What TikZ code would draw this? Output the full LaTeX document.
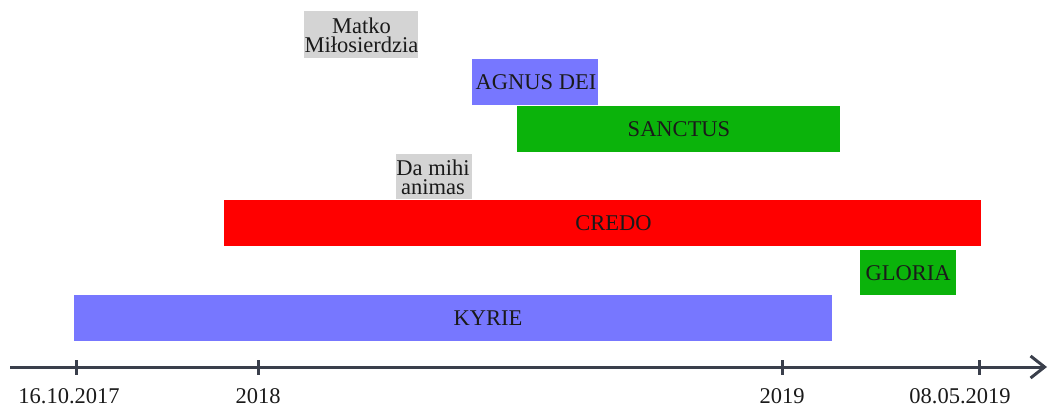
\documentclass[tikz,border=0pt]{standalone}
\usepackage{fontspec}
\setmainfont{Liberation Serif}
\usetikzlibrary{arrows.meta}
\definecolor{lblue}{HTML}{7777FF}
\definecolor{mgreen}{HTML}{0BB30B}
\definecolor{lgray}{HTML}{D4D4D4}
\definecolor{axisc}{HTML}{3A3F4B}
\definecolor{txt}{HTML}{1A1A1A}
\tikzset{
  bar/.style={rectangle, inner sep=0pt, outer sep=0pt},
  lbl/.style={inner sep=0pt, text=txt, font=\fontsize{22.5}{19}\selectfont, align=center},
  tickmark/.style={axisc, line width=3pt},
  ticklabel/.style={font=\fontsize{22.5}{22}\selectfont, text=txt, inner sep=0pt}
}
\begin{document}
\begin{tikzpicture}[x=1pt, y=-1pt]
\useasboundingbox (0,0) rectangle (1050,407);
\node[bar, fill=lgray, minimum width=114pt, minimum height=47pt] (matko) at (361,34.5) {};
\node[lbl] (matkoL) at (361.5,35) {Matko\\Miłosierdzia};
\node[bar, fill=lgray, minimum width=76pt, minimum height=45pt] (damihi) at (434,176.5) {};
\node[lbl] (damihiL) at (433,177) {Da mihi\\animas};
\node[bar, fill=lblue, minimum width=126pt, minimum height=46pt] (agnus) at (535,82) {};
\node[lbl] (agnusL) at (536,82) {AGNUS DEI};
\node[bar, fill=mgreen, minimum width=323pt, minimum height=46pt] (sanctus) at (678.5,129) {};
\node[lbl] (sanctusL) at (679,129) {SANCTUS};
\node[bar, fill=red, minimum width=757pt, minimum height=46pt] (credo) at (602.5,223) {};
\node[lbl] (credoL) at (613.5,223.5) {CREDO};
\node[bar, fill=mgreen, minimum width=96pt, minimum height=45pt] (gloria) at (908,272.5) {};
\node[lbl] (gloriaL) at (908,273) {GLORIA};
\node[bar, fill=lblue, minimum width=758pt, minimum height=46pt] (kyrie) at (453,318) {};
\node[lbl] (kyrieL) at (488,318.5) {KYRIE};
% axis
\coordinate (a0) at (10,367);
\coordinate (a1) at (1047,367);
\draw[axisc, line width=3pt, -{Straight Barb[length=14pt, width=22pt, line width=3pt]}] (a0) -- (a1);
\foreach \x/\n in {76/t1, 258/t2, 782/t3, 979/t4} {
  \coordinate (\n a) at (\x,360);
  \coordinate (\n b) at (\x,375);
  \draw[tickmark] (\n a) -- (\n b);
}
\node[ticklabel] (l1) at (69,396) {16.10.2017};
\node[ticklabel] (l2) at (258,396) {2018};
\node[ticklabel] (l3) at (782,396) {2019};
\node[ticklabel] (l4) at (960,396) {08.05.2019};
\end{tikzpicture}
\end{document}
